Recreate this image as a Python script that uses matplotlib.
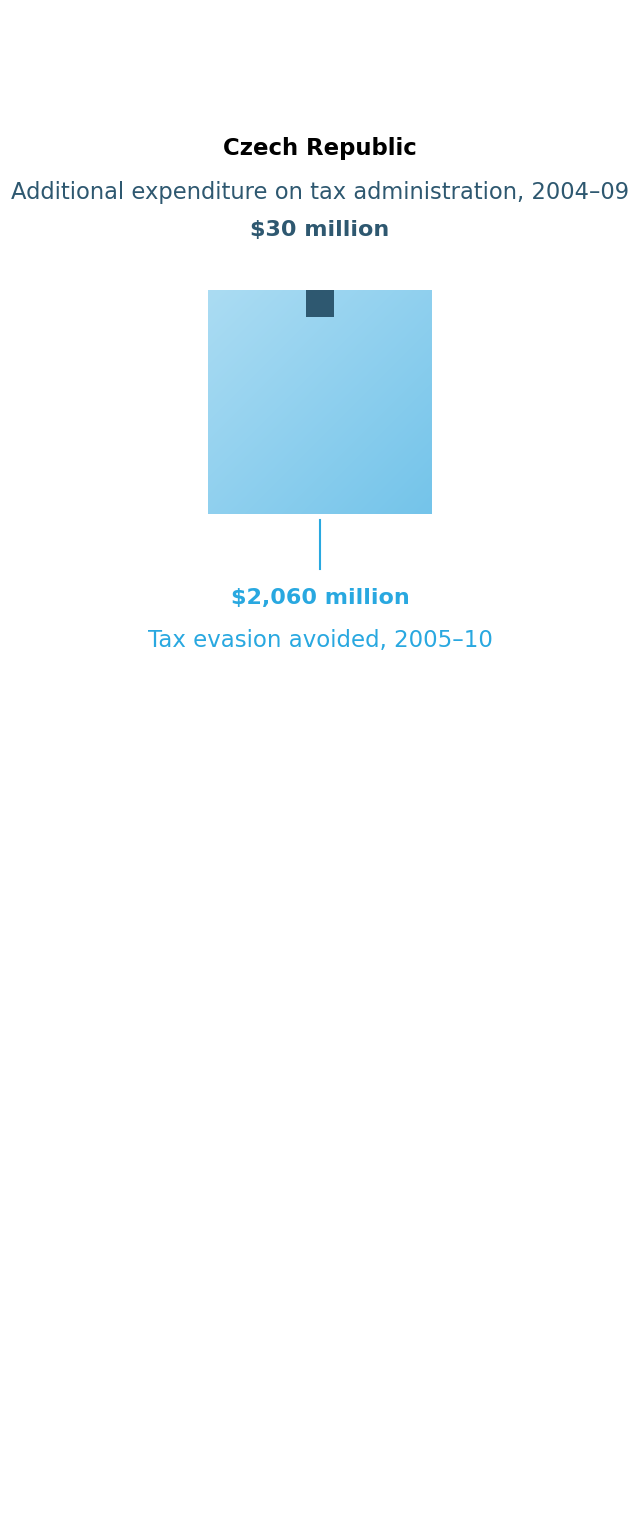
import numpy as np
import matplotlib
matplotlib.use("Agg")
from matplotlib import pyplot as plt
from matplotlib.patches import Rectangle
from matplotlib.colors import LinearSegmentedColormap

# data
country = "Czech Republic"
cost_label = "Additional expenditure on tax administration, 2004–09"
cost_value = 30          # $ million
gain_label = "Tax evasion avoided, 2005–10"
gain_value = 2060        # $ million

dark = "#2e5870"
bright = "#29a8e0"
plt.rcParams['font.family'] = ['DejaVu Sans']

fig = plt.figure(figsize=(6.4, 15.2), dpi=100, facecolor='w')
ax = fig.add_axes([0, 0, 1, 1], frameon=False, xticks=[], yticks=[])

# area-proportional squares: biggest one is 224 px wide
scale = 224 / np.sqrt(gain_value)
big = np.sqrt(gain_value) * scale
small = np.sqrt(cost_value) * scale
cx, top = 320, 290

# diagonal gradient for the big square
cmap = LinearSegmentedColormap.from_list("sq", ["#abdcf3", "#74c4ea"])
g = np.linspace(0, 1, 200)
grad = (g[None, :] + g[:, None]) / 2
ax.imshow(grad, cmap=cmap, extent=(cx - big / 2, cx + big / 2, top + big, top),
          interpolation='bilinear', zorder=1)
ax.add_patch(Rectangle((cx - small / 2, top), small, small, color=dark, lw=0, zorder=2))
ax.set_xlim(0, 640)
ax.set_ylim(1520, 0)
ax.set_aspect('auto')

# connector line
ax.plot([cx, cx], [top + big + 6, top + big + 55], color=bright, lw=1.5, zorder=2)

ax.text(cx, 149, country, ha='center', va='center', fontsize=16.4, fontweight='bold', color='black')
ax.text(cx, 193, cost_label, ha='center', va='center', fontsize=16.3, color=dark)
ax.text(cx, 230, f"${cost_value} million", ha='center', va='center', fontsize=16,
        fontweight='bold', color=dark)
ax.text(cx, 598, f"${gain_value:,} million", ha='center', va='center', fontsize=16,
        fontweight='bold', color=bright)
ax.text(cx, 640, gain_label, ha='center', va='center', fontsize=16.5, color=bright)

fig.savefig("out.png", dpi=100, facecolor='w')
